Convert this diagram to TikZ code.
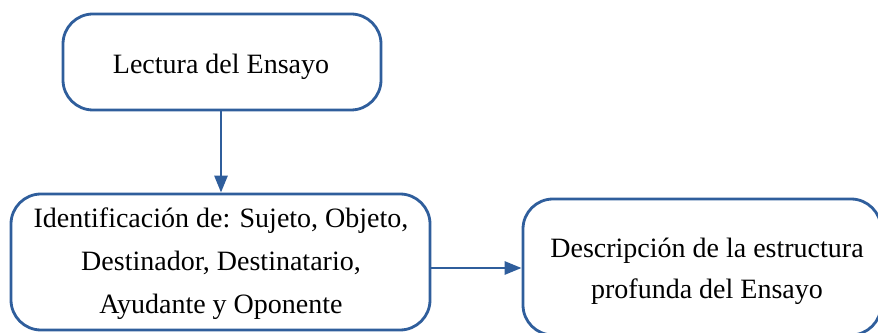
\documentclass[tikz,border=0pt]{standalone}
\usepackage{fontspec}
\setmainfont{Liberation Serif}
\usetikzlibrary{arrows.meta}
\definecolor{flowblue}{HTML}{2F5E9C}
\begin{document}
\begin{tikzpicture}[x=1pt,y=1pt,
  flowbox/.style={draw=flowblue, line width=2.8pt, rounded corners=30pt,
    fill=white, inner sep=0pt},
  boxtext/.style={align=center, inner sep=0pt},
  flowarrow/.style={draw=flowblue, line width=2.8pt,
    -{Triangle[length=17pt,width=13pt]}}]
  \useasboundingbox (0,0) rectangle (878,332);
  % boxes
  \node[flowbox, minimum width=318pt, minimum height=96pt] (lectura) at (222,270) {};
  \node[flowbox, minimum width=419pt, minimum height=136pt] (ident) at (220.5,70) {};
  \node[flowbox, minimum width=358pt, minimum height=136pt] (desc) at (702,65) {};
  % box labels
  \node[boxtext, font=\fontsize{28}{43}\selectfont] (lecturatext) at (221,265.5)
        {Lectura del Ensayo};
  \node[boxtext, font=\fontsize{28}{43}\selectfont] (identtext) at (221,68.5)
        {Identificación de: Sujeto, Objeto,\\Destinador, Destinatario,\\Ayudante y Oponente};
  \node[boxtext, font=\fontsize{28}{41}\selectfont] (desctext) at (707,61)
        {Descripción de la estructura\\profunda del Ensayo};
  % connectors
  \draw[flowarrow] (lectura.south -| 221,0) -- (ident.north -| 221,0);
  \draw[flowarrow] (ident.east |- 0,64) -- (desc.west |- 0,64);
\end{tikzpicture}
\end{document}
